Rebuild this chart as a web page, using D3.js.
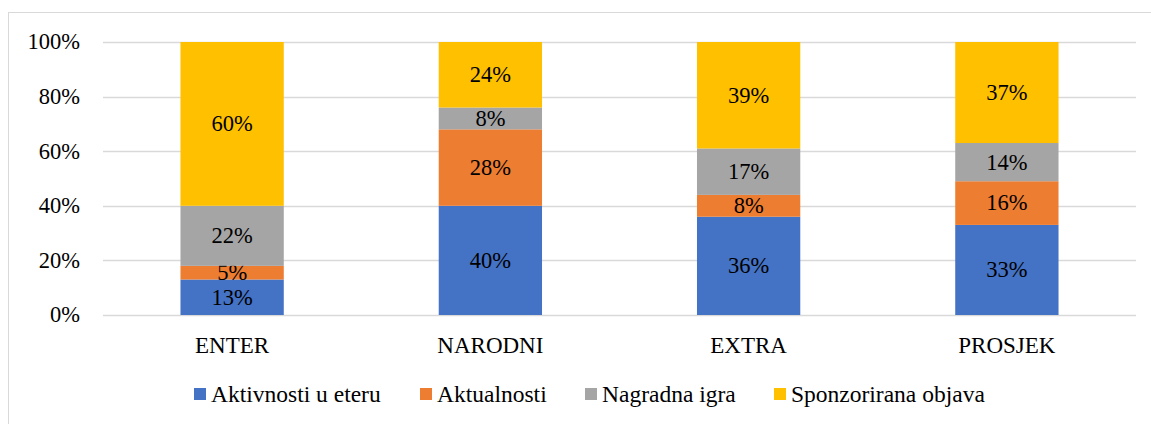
<!DOCTYPE html>
<html>
<head>
<meta charset="utf-8">
<script src="https://cdn.jsdelivr.net/npm/d3@7"></script>
<style>
  body { margin: 0; background: #fff; }
  svg { display: block; }
  svg text { font-family: "Liberation Serif", "DejaVu Serif", serif; }
</style>
</head>
<body>
<svg id="chart" width="1151" height="424"></svg>
<script>
const categories = ['ENTER', 'NARODNI', 'EXTRA', 'PROSJEK']
const seriesNames = ['Aktivnosti u eteru', 'Aktualnosti', 'Nagradna igra', 'Sponzorirana objava']
const seriesColors = ['#4472C4', '#ED7D31', '#A5A5A5', '#FFC000']
const aktivnosti = [13, 40, 36, 33]
const aktualnosti = [5, 28, 8, 16]
const nagradna = [22, 8, 17, 14]
const sponzorirana = [60, 24, 39, 37]
const yTicks = [0, 20, 40, 60, 80, 100]

const values = [aktivnosti, aktualnosti, nagradna, sponzorirana]
const rows = categories.map((c, i) => {
  const r = { cat: c }
  seriesNames.forEach((s, j) => { r[s] = values[j][i] })
  return r
})

const svg = d3.select('#chart')
const plotLeft = 103
const plotRight = 1136

// chart border (right/bottom cut by the frame)
svg.append('rect')
  .attr('x', 8.5).attr('y', 12.5)
  .attr('width', 1160).attr('height', 430)
  .attr('fill', 'none').attr('stroke', '#d9d9d9').attr('stroke-width', 1)

const x = d3.scaleBand()
  .domain(categories)
  .range([plotLeft, plotRight])
  .paddingInner(0.6)
  .paddingOuter(0.3)

const y = d3.scaleLinear()
  .domain([0, 100])
  .range([315, 42])

// gridlines
svg.append('g')
  .selectAll('line')
  .data(yTicks)
  .enter()
  .append('line')
  .attr('x1', plotLeft).attr('x2', plotRight)
  .attr('y1', d => Math.round(y(d)) + 0.5).attr('y2', d => Math.round(y(d)) + 0.5)
  .attr('stroke', '#d9d9d9').attr('stroke-width', 1.5)

// y tick labels
svg.append('g')
  .selectAll('text')
  .data(yTicks)
  .enter()
  .append('text')
  .attr('x', 80)
  .attr('y', d => y(d))
  .attr('dy', '0.33em')
  .attr('text-anchor', 'end')
  .attr('font-size', 22.5)
  .attr('fill', '#000')
  .text(d => d + '%')

const stacked = d3.stack().keys(seriesNames)(rows)

const layers = svg.append('g')
  .selectAll('g')
  .data(stacked)
  .enter()
  .append('g')
  .attr('fill', (d, i) => seriesColors[i])

layers.selectAll('rect')
  .data(d => d)
  .enter()
  .append('rect')
  .attr('x', d => x(d.data.cat))
  .attr('width', x.bandwidth())
  .attr('y', d => y(d[1]))
  .attr('height', d => y(d[0]) - y(d[1]))

layers.selectAll('text')
  .data(d => d)
  .enter()
  .append('text')
  .attr('x', d => x(d.data.cat) + x.bandwidth() / 2)
  .attr('y', d => (y(d[0]) + y(d[1])) / 2)
  .attr('dy', '0.33em')
  .attr('text-anchor', 'middle')
  .attr('font-size', 22.5)
  .attr('fill', '#000')
  .text(d => (d[1] - d[0]) + '%')

// category labels
svg.append('g')
  .selectAll('text')
  .data(categories)
  .enter()
  .append('text')
  .attr('x', d => x(d) + x.bandwidth() / 2)
  .attr('y', 345)
  .attr('dy', '0.33em')
  .attr('text-anchor', 'middle')
  .attr('font-size', 23)
  .attr('fill', '#000')
  .text(d => d)

// legend
const legendX = [194, 420, 585, 774]
const legend = svg.append('g')
  .selectAll('g')
  .data(seriesNames)
  .enter()
  .append('g')
  .attr('transform', (d, i) => `translate(${legendX[i]},394)`)

legend.append('rect')
  .attr('x', 0).attr('y', -6)
  .attr('width', 12).attr('height', 12)
  .attr('fill', (d, i) => seriesColors[i])

legend.append('text')
  .attr('x', 17)
  .attr('y', 0)
  .attr('dy', '0.33em')
  .attr('font-size', 23.5)
  .attr('fill', '#000')
  .text(d => d)
</script>
</body>
</html>
